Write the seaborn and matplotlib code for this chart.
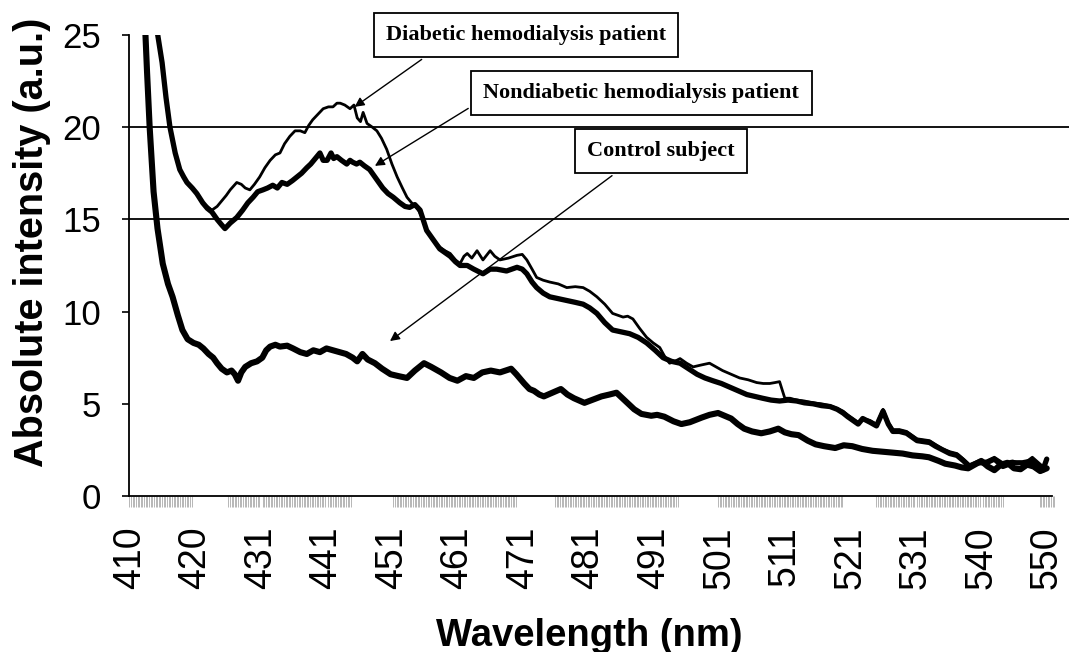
import numpy as np
import pandas as pd
import seaborn as sns
import matplotlib.pyplot as plt

# values (wavelength in nm, absolute intensity in a.u.)
wl_control = [
    410.0, 411.0, 412.0, 412.6, 413.0, 413.6, 414.2, 415.0, 415.8, 416.5,
    417.3, 418.0, 418.8, 419.7, 420.5, 421.2, 422.0, 422.7, 423.3, 424.0,
    424.8, 425.5, 426.0, 426.5, 427.0, 427.6, 428.5, 429.4, 430.2, 430.8,
    431.4, 432.2, 432.9, 434.0, 434.9, 436.0, 437.0, 438.0, 439.0, 440.0,
    441.0, 442.0, 443.0, 444.0, 444.7, 445.5, 446.3, 447.4, 448.5, 449.8,
    451.0, 452.3, 453.5, 454.9, 456.0, 457.5, 458.8, 460.0, 461.3, 462.5,
    463.8, 465.1, 466.5, 468.2, 469.0, 470.2, 471.0, 471.7, 472.5, 473.2,
    474.5, 475.8, 476.8, 477.8, 479.4, 480.5, 482.0, 483.2, 484.3, 485.2,
    486.1, 487.0, 488.1, 489.6, 490.5, 491.6, 493.0, 494.2, 495.5, 497.3,
    498.5, 499.8, 500.8, 501.8, 502.8, 503.8, 505.0, 506.4, 507.7, 509.0,
    510.0, 511.0, 512.1, 513.5, 514.7, 516.0, 517.7, 519.0, 520.3, 521.8,
    523.4, 525.0, 526.5, 528.0, 529.5, 531.0, 532.0, 533.5, 534.5, 536.0,
    537.0, 538.0, 539.0, 540.0, 541.0, 542.0, 543.0, 544.0, 545.0, 546.0,
    547.0, 548.0, 549.0, 550.0,
]
int_control = [
    60.0, 40.0, 28.0, 23.0, 20.0, 16.5, 14.5, 12.6, 11.5, 10.8,
    9.8, 9.0, 8.5, 8.3, 8.2, 8.0, 7.7, 7.5, 7.2, 6.9,
    6.7, 6.8, 6.6, 6.25, 6.7, 7.0, 7.2, 7.3, 7.5, 7.9,
    8.1, 8.2, 8.1, 8.15, 8.0, 7.8, 7.7, 7.9, 7.8, 8.0,
    7.9, 7.8, 7.7, 7.5, 7.3, 7.7, 7.4, 7.2, 6.9, 6.6,
    6.5, 6.4, 6.8, 7.2, 7.0, 6.7, 6.4, 6.25, 6.5, 6.4,
    6.7, 6.8, 6.7, 6.9, 6.6, 6.1, 5.8, 5.7, 5.5, 5.4,
    5.6, 5.8, 5.5, 5.3, 5.05, 5.2, 5.4, 5.5, 5.6, 5.3,
    5.0, 4.7, 4.45, 4.35, 4.4, 4.3, 4.05, 3.9, 4.0, 4.25,
    4.4, 4.5, 4.35, 4.2, 3.9, 3.65, 3.5, 3.4, 3.5, 3.65,
    3.45, 3.35, 3.3, 3.0, 2.8, 2.7, 2.6, 2.75, 2.7, 2.55,
    2.45, 2.4, 2.35, 2.3, 2.2, 2.15, 2.1, 1.9, 1.75, 1.65,
    1.55, 1.5, 1.7, 1.9, 1.6, 1.4, 1.7, 1.8, 1.5, 1.45,
    1.7, 1.6, 1.35, 1.5,
]

wl_diabetic = [
    410.0, 412.0, 413.0, 413.6, 414.1, 414.9, 415.5, 416.1, 416.9, 417.6,
    418.2, 418.7, 419.5, 420.2, 421.1, 421.8, 422.5, 423.3, 424.0, 424.7,
    425.3, 426.3, 427.0, 427.6, 428.3, 429.0, 429.8, 430.6, 431.4, 432.2,
    432.9, 433.6, 434.4, 435.2, 436.0, 436.7, 437.3, 437.9, 438.7, 439.5,
    440.3, 441.0, 441.6, 442.1, 442.8, 443.6, 444.2, 444.7, 445.2, 445.6,
    446.2, 447.0, 447.7, 448.4, 449.2, 450.0, 450.8, 451.6, 452.3, 453.0,
    453.8, 454.5, 455.3, 456.3, 457.3, 458.1, 458.9, 459.7, 460.4, 461.0,
    461.5, 462.2, 463.0, 463.9, 465.0, 465.7, 466.5, 467.8, 469.1, 469.9,
    470.6, 471.4, 472.1, 473.1, 474.1, 475.4, 476.7, 478.0, 479.2, 480.2,
    481.3, 482.5, 483.7, 484.5, 485.3, 486.0, 486.8, 487.8, 488.9, 489.9,
    490.9, 491.6, 492.4, 493.2, 494.0, 495.0, 496.0, 497.2, 498.5, 499.5,
    500.5, 501.8, 503.1, 504.4, 505.7, 506.7, 507.7, 508.5, 509.2, 510.0,
    510.8, 511.8, 513.0, 514.3, 515.6, 516.9, 518.0, 518.9, 519.6, 520.4,
    521.2, 521.9, 523.0, 524.0, 525.0, 525.8, 526.5, 527.5, 528.6, 529.4,
    530.2, 531.2, 532.1, 533.0, 534.1, 535.2, 536.3, 537.3, 538.2, 539.5,
    540.8, 542.0, 543.3, 544.8, 546.3, 547.8, 549.4, 550.0,
]
int_diabetic = [
    120.0, 50.0, 35.0, 29.0, 25.3, 23.5, 21.6, 20.0, 18.6, 17.7,
    17.3, 17.0, 16.7, 16.4, 15.9, 15.7, 15.5, 15.7, 16.0, 16.3,
    16.6, 17.0, 16.9, 16.7, 16.6, 16.9, 17.3, 17.8, 18.2, 18.5,
    18.6, 19.1, 19.5, 19.8, 19.8, 19.7, 20.1, 20.4, 20.7, 21.0,
    21.1, 21.1, 21.3, 21.3, 21.2, 21.0, 21.2, 20.5, 20.3, 20.8,
    20.2, 20.0, 19.8, 19.4, 18.8, 18.0, 17.3, 16.7, 16.2, 15.9,
    15.65, 15.2, 14.4, 13.9, 13.5, 13.3, 13.15, 12.8, 12.6, 13.0,
    13.15, 12.9, 13.3, 12.8, 13.3, 13.0, 12.8, 12.9, 13.05, 13.1,
    12.8, 12.3, 11.85, 11.7, 11.6, 11.5, 11.3, 11.35, 11.3, 11.1,
    10.8, 10.4, 9.9, 9.8, 9.7, 9.75, 9.6, 9.1, 8.6, 8.3,
    8.05, 7.6, 7.2, 7.3, 7.45, 7.2, 7.0, 7.1, 7.2, 7.0,
    6.8, 6.6, 6.4, 6.3, 6.15, 6.1, 6.1, 6.15, 6.2, 5.3,
    5.3, 5.2, 5.15, 5.05, 5.0, 4.9, 4.75, 4.6, 4.4, 4.2,
    4.0, 4.2, 4.1, 3.9, 4.7, 4.0, 3.6, 3.6, 3.5, 3.3,
    3.1, 3.05, 3.0, 2.8, 2.55, 2.4, 2.3, 2.0, 1.7, 1.9,
    1.9, 2.1, 1.8, 1.9, 1.7, 2.1, 1.6, 1.9,
]

wl_nondiabetic = [
    410.0, 412.0, 413.0, 413.6, 414.1, 414.9, 415.5, 416.1, 416.9, 417.6,
    418.2, 418.7, 419.5, 420.2, 421.1, 421.8, 422.5, 423.3, 424.0, 424.5,
    425.3, 426.3, 427.2, 428.0, 428.8, 429.5, 430.3, 431.0, 431.8, 432.5,
    433.2, 434.0, 434.8, 435.5, 436.2, 437.0, 437.6, 438.3, 439.0, 439.5,
    440.1, 440.7, 441.1, 441.6, 442.3, 443.1, 443.6, 444.0, 444.6, 445.1,
    445.8, 446.6, 447.6, 448.6, 449.4, 450.2, 451.2, 452.0, 452.7, 453.5,
    454.3, 455.3, 456.3, 457.3, 458.1, 458.9, 459.7, 460.4, 461.5, 462.5,
    463.9, 465.0, 466.0, 467.5, 469.1, 469.9, 470.6, 471.4, 472.1, 473.1,
    474.1, 475.4, 476.7, 478.0, 479.2, 480.2, 481.3, 482.5, 483.7, 485.0,
    486.3, 487.6, 488.9, 490.2, 491.4, 492.7, 494.0, 495.3, 496.6, 497.8,
    499.0, 500.3, 501.6, 502.9, 504.2, 505.4, 506.6, 507.9, 509.2, 510.5,
    511.8, 513.0, 514.3, 515.6, 516.9, 518.0, 518.9, 519.6, 520.4, 521.2,
    521.9, 523.0, 524.0, 525.0, 525.8, 526.5, 527.5, 528.6, 529.4, 530.2,
    531.2, 532.1, 533.0, 534.1, 535.2, 536.3, 537.3, 538.2, 539.5, 540.8,
    542.0, 543.3, 544.8, 546.3, 547.8, 549.4, 550.0,
]
int_nondiabetic = [
    120.0, 50.0, 35.0, 29.0, 25.3, 23.5, 21.6, 20.0, 18.6, 17.7,
    17.3, 17.0, 16.7, 16.4, 15.9, 15.6, 15.4, 15.0, 14.7, 14.5,
    14.8, 15.1, 15.5, 15.9, 16.2, 16.5, 16.6, 16.7, 16.85, 16.7,
    17.0, 16.9, 17.1, 17.3, 17.5, 17.8, 18.0, 18.3, 18.6, 18.2,
    18.2, 18.6, 18.3, 18.4, 18.2, 18.0, 18.2, 18.1, 18.0, 18.1,
    17.9, 17.7, 17.2, 16.7, 16.4, 16.2, 15.9, 15.7, 15.65, 15.8,
    15.5, 14.4, 13.9, 13.4, 13.2, 13.0, 12.7, 12.5, 12.5, 12.3,
    12.05, 12.3, 12.3, 12.2, 12.4, 12.3, 12.05, 11.6, 11.3, 11.0,
    10.8, 10.7, 10.6, 10.5, 10.4, 10.2, 9.9, 9.4, 9.0, 8.9,
    8.8, 8.6, 8.3, 7.9, 7.5, 7.3, 7.2, 6.9, 6.6, 6.4,
    6.25, 6.1, 5.9, 5.7, 5.5, 5.4, 5.3, 5.2, 5.15, 5.2,
    5.15, 5.05, 5.0, 4.9, 4.85, 4.7, 4.5, 4.3, 4.1, 3.9,
    4.2, 4.0, 3.8, 4.6, 3.9, 3.5, 3.5, 3.4, 3.2, 3.0,
    2.95, 2.9, 2.7, 2.5, 2.3, 2.2, 1.9, 1.6, 1.8, 1.8,
    2.0, 1.6, 1.8, 1.8, 1.9, 1.4, 2.0,
]

tick_labels = ["410", "420", "431", "441", "451", "461", "471", "481",
               "491", "501", "511", "521", "531", "540", "550"]
y_ticks = [0, 5, 10, 15, 20, 25]
grid_levels = [15, 20]

sns.set_style("white")
plt.rcParams["font.family"] = ["Liberation Sans", "DejaVu Sans"]
plt.rcParams.update({"text.color": "black", "axes.labelcolor": "black",
                     "xtick.color": "black", "ytick.color": "black"})

fig = plt.figure(figsize=(10.69, 6.52), dpi=100)
ax = fig.add_axes([0.1207, 0.2393, 0.8793, 0.7071])

for lvl in grid_levels:
    ax.axhline(lvl, color="black", lw=1.3, zorder=1)

control = pd.DataFrame({"wl": wl_control, "val": int_control})
diabetic = pd.DataFrame({"wl": wl_diabetic, "val": int_diabetic})
nondiabetic = pd.DataFrame({"wl": wl_nondiabetic, "val": int_nondiabetic})

sns.lineplot(data=control, x="wl", y="val", color="black", lw=4.4,
             estimator=None, sort=False, ax=ax, zorder=3)
sns.lineplot(data=nondiabetic, x="wl", y="val", color="black", lw=3.8,
             estimator=None, sort=False, ax=ax, zorder=3)
sns.lineplot(data=diabetic, x="wl", y="val", color="black", lw=2.0,
             estimator=None, sort=False, ax=ax, zorder=4)

ax.set_xlim(409.85, 553.4)
ax.set_ylim(0, 25)

sns.despine(ax=ax)
for side in ["left", "bottom"]:
    ax.spines[side].set_color("black")
    ax.spines[side].set_linewidth(1.3)
ax.spines["bottom"].set_bounds(409.85, 550.8)

# x axis: category-style labels every ~10 nm, dense grey minor ticks
ax.set_xticks(410 + 10 * np.arange(len(tick_labels)))
ax.set_xticklabels(tick_labels, rotation=90)
minor = np.concatenate([np.arange(a, b, 0.25) for a, b in
                        [(409.9, 419.6), (425.0, 444.0), (450.2, 469.1),
                         (474.9, 493.7), (499.8, 518.9), (524.0, 543.3),
                         (548.9, 551.2)]])
ax.set_xticks(minor, minor=True)
ax.tick_params(axis="x", which="major", length=0, pad=22, labelsize=27)
ax.tick_params(axis="x", which="minor", bottom=True, length=8, width=0.5,
               color="#9a9a9a", direction="out")

ax.set_yticks(y_ticks)
ax.tick_params(axis="y", left=True, direction="out", length=5, width=1.2,
               pad=15, labelsize=25)

ax.set_xlabel("Wavelength (nm)", fontsize=27.5, fontweight="bold")
ax.set_ylabel("Absolute intensity (a.u.)", fontsize=28.5, fontweight="bold")
ax.xaxis.set_label_coords(0.49, -0.265)
ax.yaxis.set_label_coords(-0.083, 0.55)

box = dict(boxstyle="square,pad=0.55", fc="white", ec="black", lw=1.3)
serif = ["Liberation Serif", "DejaVu Serif"]
notes = [
    ("Diabetic hemodialysis patient", (444.3, 21.1), (470.5, 25.0), (0.2, 0.0)),
    ("Nondiabetic hemodialysis patient", (447.4, 17.9), (488.1, 21.85), (0.0, 0.2)),
    ("Control subject", (449.7, 8.4), (491.1, 18.7), (0.3, 0.0)),
]
for text, tip, pos, rel in notes:
    ax.annotate(text, xy=tip, xytext=pos, ha="center", va="center",
                fontsize=16, fontweight="bold", family=serif, color="black",
                bbox=box, annotation_clip=False, zorder=5,
                arrowprops=dict(arrowstyle="-|>", color="black", lw=1.0,
                                mutation_scale=14, relpos=rel, shrinkB=0))

fig.savefig("out.png", dpi=100)
